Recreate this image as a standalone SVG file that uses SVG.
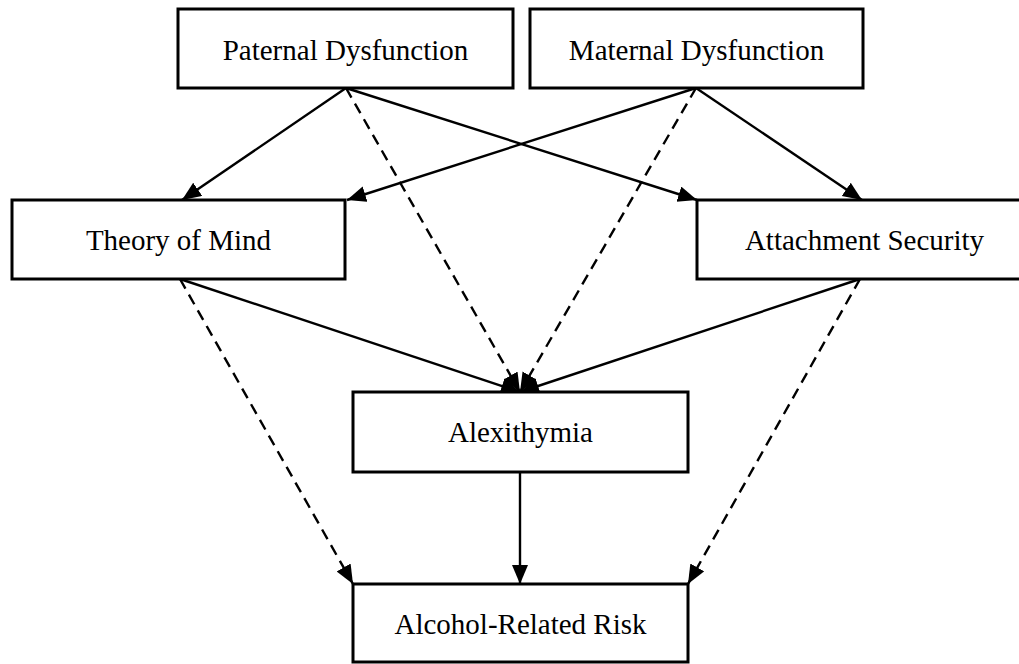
<svg xmlns="http://www.w3.org/2000/svg" width="1019" height="664" viewBox="0 0 1019 664">
  <style>
    .box { fill: #fff; stroke: #000; stroke-width: 3; }
    .lbl { font-family: "Liberation Serif", "Times New Roman", serif; font-size: 29px; fill: #000; text-anchor: middle; }
    .ln { fill: none; stroke: #000; stroke-width: 2.4; marker-end: url(#ah); }
    .dash { stroke-dasharray: 11 7; }
  </style>
  <defs>
    <marker id="ah" markerUnits="userSpaceOnUse" markerWidth="22" markerHeight="18" refX="19" refY="8" orient="auto">
      <path d="M0,0 L19,8 L0,16 z" fill="#000" stroke="none"/>
    </marker>
  </defs>
  <rect width="1019" height="664" fill="#fff"/>
  <g id="connectors">
    <line class="ln" x1="346" y1="88" x2="182" y2="200"/>
    <line class="ln dash" x1="346" y1="88" x2="520" y2="392"/>
    <line class="ln" x1="346" y1="88" x2="697" y2="200"/>
    <line class="ln" x1="696" y1="88" x2="347" y2="200"/>
    <line class="ln dash" x1="696" y1="88" x2="520" y2="392"/>
    <line class="ln" x1="696" y1="88" x2="862" y2="200"/>
    <line class="ln" x1="180" y1="279" x2="520" y2="392"/>
    <line class="ln dash" x1="180" y1="279" x2="353" y2="584"/>
    <line class="ln" x1="860" y1="279" x2="520" y2="392"/>
    <line class="ln dash" x1="860" y1="279" x2="688" y2="584"/>
    <line class="ln" x1="520" y1="472" x2="520" y2="584"/>
  </g>
  <g id="paternal">
    <rect class="box" x="178" y="9" width="335" height="79"/>
    <text class="lbl" x="345.5" y="60">Paternal Dysfunction</text>
  </g>
  <g id="maternal">
    <rect class="box" x="530" y="9" width="333" height="79"/>
    <text class="lbl" x="696.5" y="60">Maternal Dysfunction</text>
  </g>
  <g id="theory">
    <rect class="box" x="12" y="200" width="333" height="79"/>
    <text class="lbl" x="178.5" y="250">Theory of Mind</text>
  </g>
  <g id="attachment">
    <rect class="box" x="697" y="200" width="335" height="79"/>
    <text class="lbl" x="864.5" y="250">Attachment Security</text>
  </g>
  <g id="alexithymia">
    <rect class="box" x="353" y="392" width="335" height="80"/>
    <text class="lbl" x="520.5" y="442">Alexithymia</text>
  </g>
  <g id="alcohol">
    <rect class="box" x="353" y="584" width="335" height="78"/>
    <text class="lbl" x="520.5" y="634">Alcohol-Related Risk</text>
  </g>
</svg>
